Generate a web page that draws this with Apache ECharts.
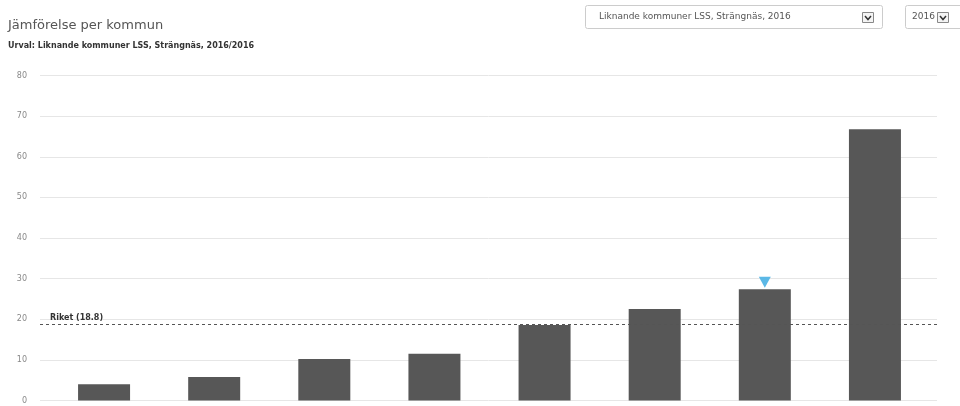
<!DOCTYPE html>
<html>
<head>
<meta charset="utf-8">
<script src="https://cdn.jsdelivr.net/npm/echarts@6/dist/echarts.min.js"></script>
<style>
  html, body { margin: 0; padding: 0; background: #fff; }
  #chart { width: 960px; height: 406px; }
</style>
</head>
<body>
<div id="chart"></div>
<script>
// kommuner i urvalet (axeltexter visas inte i originalet)
const kommuner = ["Kommun A", "Kommun B", "Kommun C", "Kommun D", "Kommun E", "Kommun F", "Strängnäs", "Kommun H"];
const varden = [4.0, 5.8, 10.2, 11.5, 18.6, 22.5, 27.4, 66.8];
const riket = 18.8;
const markerad = "Strängnäs";
const yTicks = [0, 10, 20, 30, 40, 50, 60, 70, 80];

const FONT = "DejaVu Sans";
const BAR_COLOR = "#575757";

const chart = echarts.init(document.getElementById("chart"));

const yMax = yTicks[yTicks.length - 1];
const markIdx = kommuner.indexOf(markerad);

chart.setOption({
    animation: false,
    textStyle: { fontFamily: FONT },
    title: [
        {
            text: "Jämförelse per kommun",
            left: 3,
            top: 14,
            textStyle: { fontSize: 13, fontWeight: "normal", color: "#555", fontFamily: FONT },
        },
        {
            text: "Urval: Liknande kommuner LSS, Strängnäs, 2016/2016",
            left: 3,
            top: 37,
            textStyle: { fontSize: 8, fontWeight: "bold", color: "#333", fontFamily: FONT },
        },
    ],
    graphic: [
        {
            type: "rect",
            shape: { x: 585.5, y: 5.5, width: 297, height: 23, r: 2 },
            style: { fill: "#fff", stroke: "#ccc", lineWidth: 1 },
        },
        {
            type: "text",
            x: 599, y: 17,
            style: { text: "Liknande kommuner LSS, Strängnäs, 2016", fill: "#555", fontSize: 9, fontFamily: FONT, verticalAlign: "middle" },
        },
        {
            type: "rect",
            shape: { x: 862.5, y: 12.5, width: 11, height: 10 },
            style: { fill: "#f4f4f4", stroke: "#888", lineWidth: 1 },
        },
        {
            type: "polyline",
            shape: { points: [[865, 16], [868, 19.5], [871, 16]] },
            style: { stroke: "#333", lineWidth: 1.5, fill: null },
        },
        {
            type: "rect",
            shape: { x: 905.5, y: 5.5, width: 60, height: 23, r: 2 },
            style: { fill: "#fff", stroke: "#ccc", lineWidth: 1 },
        },
        {
            type: "text",
            x: 912, y: 17,
            style: { text: "2016", fill: "#555", fontSize: 9, fontFamily: FONT, verticalAlign: "middle" },
        },
        {
            type: "rect",
            shape: { x: 937.5, y: 12.5, width: 11, height: 10 },
            style: { fill: "#f4f4f4", stroke: "#888", lineWidth: 1 },
        },
        {
            type: "polyline",
            shape: { points: [[940, 16], [943, 19.5], [946, 16]] },
            style: { stroke: "#333", lineWidth: 1.5, fill: null },
        },
    ],
    grid: [
        // rutnät + y-axel
        { left: 40, right: 23, top: 75.5, bottom: 5.5 },
        // staplar
        { left: 49, right: 30, top: 75.5, bottom: 5.5 },
    ],
    xAxis: [
        { type: "category", gridIndex: 0, data: [""], show: false },
        { type: "category", gridIndex: 1, data: kommuner, show: false },
    ],
    yAxis: [
        {
            type: "value",
            gridIndex: 0,
            min: 0,
            max: yMax,
            interval: 10,
            axisLine: { show: false },
            axisTick: { show: false },
            axisLabel: { color: "#888", fontSize: 8, margin: 13, fontFamily: FONT },
            splitLine: { lineStyle: { color: "#e6e6e6", width: 1 } },
        },
        {
            type: "value",
            gridIndex: 1,
            min: 0,
            max: yMax,
            interval: 10,
            show: false,
            splitLine: { show: false },
        },
    ],
    series: [
        {
            name: "Riket",
            type: "line",
            xAxisIndex: 0,
            yAxisIndex: 0,
            data: [],
            markLine: {
                silent: true,
                symbol: "none",
                lineStyle: { color: "#555", type: [3, 3], width: 1 },
                label: {
                    show: true,
                    position: "insideStartTop",
                    formatter: "Riket (" + riket + ")",
                    color: "#333",
                    fontSize: 8,
                    fontWeight: "bold",
                    fontFamily: FONT,
                    distance: [10, 2],
                },
                data: [{ yAxis: riket }],
            },
        },
        {
            name: "Värde",
            type: "bar",
            xAxisIndex: 1,
            yAxisIndex: 1,
            data: varden,
            barWidth: 52,
            itemStyle: { color: BAR_COLOR },
            markPoint: {
                symbol: "triangle",
                symbolSize: [12, 11],
                symbolRotate: 180,
                symbolOffset: [0, -7],
                itemStyle: { color: "#5bb8e6" },
                label: { show: false },
                data: [{ coord: [markIdx, varden[markIdx]] }],
            },
        },
    ],
});
</script>
</body>
</html>
